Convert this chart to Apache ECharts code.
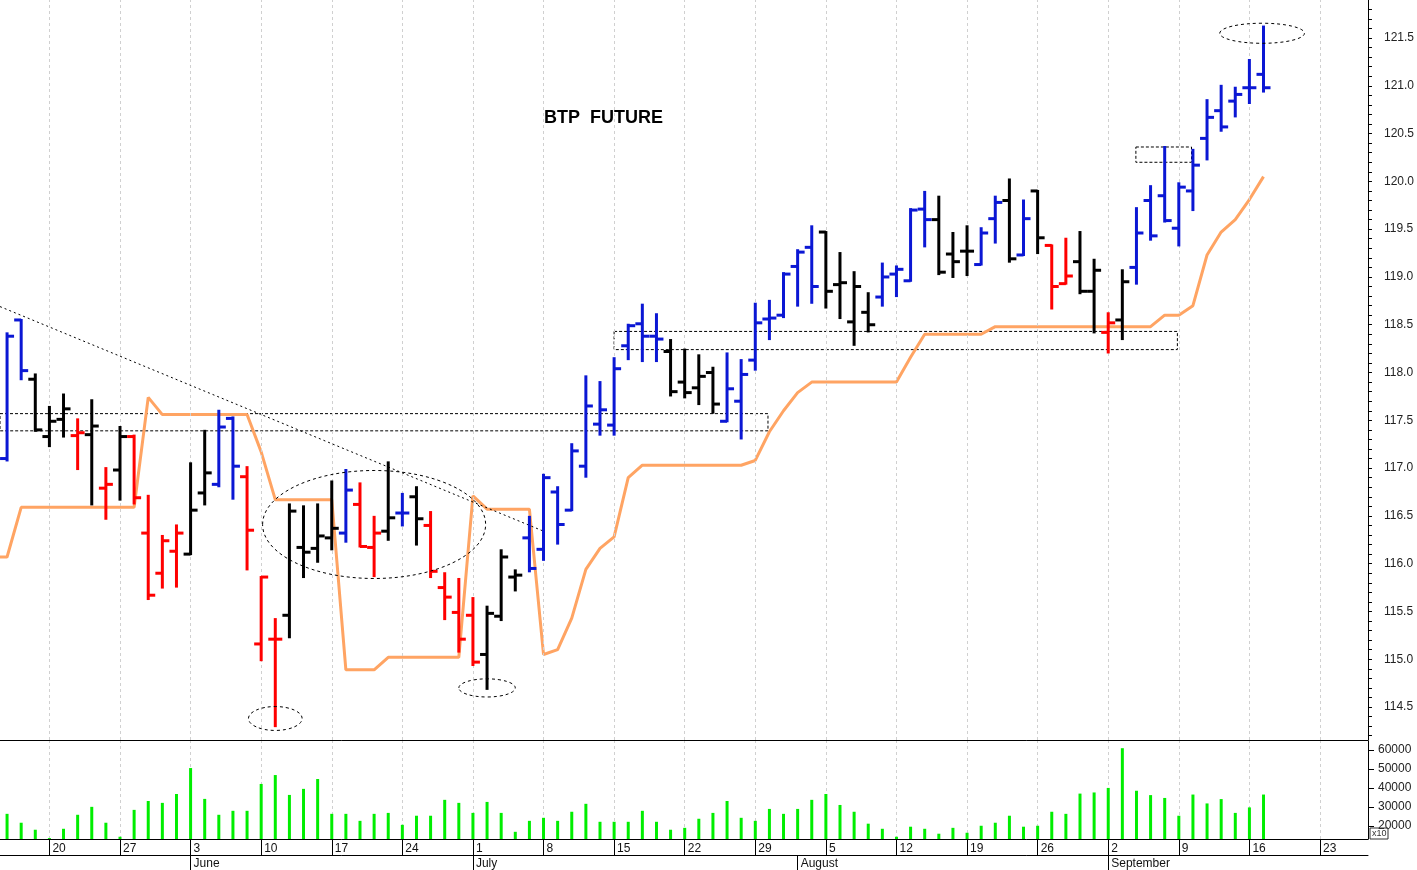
<!DOCTYPE html>
<html><head><meta charset="utf-8">
<script src="https://cdn.jsdelivr.net/npm/echarts@6/dist/echarts.min.js"></script>
<style>html,body{margin:0;padding:0;background:#fff}#c{width:1417px;height:870px}</style>
</head><body><div id="c"></div>
<script>
const firstDay = -1; // trading-day index of first bar (May 14)
const opens  = [116.95,117.1,118.55,117.93,117.33,117.51,117.34,117.35,116.79,116.98,117.33,116.32,115.9,116.13,116.1,116.74,116.83,117.52,
116.91,115.16,115.21,115.46,116.17,116.16,116.27,116.32,116.62,116.17,116.34,116.53,116.7,116.4,115.75,115.49,
115.46,115.05,115.45,115.86,116.27,116.15,116.75,116.56,117.02,117.46,117.45,118.28,118.51,118.38,118.22,117.9,117.84,118.0,117.49,117.7,118.13,118.56,
118.6,119.11,119.31,119.47,118.92,118.53,118.63,118.79,119.03,118.96,119.71,119.6,119.24,119.27,119.13,119.61,119.8,119.23,119.9,119.33,118.93,
119.16,118.85,118.42,118.55,119.1,119.8,119.85,119.51,119.9,120.45,120.74,120.84,120.98,121.12];
const highs  = [117.2,118.41,118.55,117.98,117.64,117.77,117.51,117.71,117.0,117.43,117.34,116.71,116.29,116.4,117.05,117.39,117.6,117.53,
117.01,115.86,115.42,116.62,116.6,116.62,116.86,116.98,116.84,116.49,117.06,116.73,116.8,116.54,115.9,115.84,
115.64,115.55,116.14,115.93,116.49,116.93,116.8,117.25,117.96,117.9,118.15,118.5,118.71,118.61,118.34,118.24,118.18,118.05,118.2,118.13,118.72,118.75,
119.04,119.28,119.53,119.47,119.25,119.05,118.83,119.14,119.11,119.71,119.89,119.84,119.46,119.53,119.51,119.84,120.02,119.8,119.9,119.33,119.4,
119.47,119.18,118.62,119.07,119.72,119.95,120.36,119.98,120.33,120.85,121.0,120.98,121.27,121.62];
const lows   = [116.7,117.08,117.93,117.39,117.23,117.33,116.99,116.62,116.47,116.67,116.63,115.63,115.75,115.76,116.1,116.62,116.81,116.68,
115.94,114.99,114.3,115.23,115.86,116.02,116.15,116.23,116.18,115.87,116.25,116.4,116.2,115.86,115.42,115.08,
114.94,114.69,115.41,115.72,115.92,116.04,116.21,116.56,116.91,117.35,117.35,118.14,118.12,118.12,117.76,117.74,117.67,117.58,117.49,117.31,118.03,118.35,
118.58,118.7,118.73,118.68,118.57,118.29,118.43,118.7,118.8,118.96,119.32,119.03,119.0,119.02,119.13,119.36,119.16,119.23,119.25,118.67,118.93,
118.83,118.42,118.21,118.35,118.93,119.39,119.58,119.33,119.7,120.23,120.53,120.68,120.82,120.94];
const closes = [116.93,118.38,118.02,117.4,117.49,117.62,117.37,117.44,116.83,117.33,116.69,115.67,116.24,116.32,116.56,116.95,117.43,117.02,
116.35,115.86,115.21,116.55,116.12,116.29,116.37,116.77,116.18,116.32,116.48,116.53,116.47,115.92,115.65,115.21,
114.97,115.48,116.07,115.88,115.95,116.9,116.41,117.18,117.65,117.61,118.04,118.49,118.38,118.35,117.8,117.79,117.96,117.67,117.83,117.98,118.52,118.57,
119.03,119.26,118.9,118.85,118.94,118.9,118.5,119.0,119.08,119.7,119.6,119.05,119.16,119.27,119.46,119.78,119.19,119.61,119.41,118.9,119.01,
118.85,119.07,118.52,118.95,119.46,119.43,119.59,119.94,120.17,120.67,120.57,120.91,120.98,120.98];
const barColors = ['r','b','b','k','k','k','r','k','r','k','r','r','r','r','k','k','b','b',
'r','r','r','k','k','k','k','b','r','r','k','b','k','r','r','r',
'r','k','k','k','b','b','b','b','b','b','b','b','b','b','k','k','k','k','b','b','b','b',
'b','b','b','k','k','k','k','b','b','b','b','k','k','k','b','b','k','b','k','r','r',
'k','k','r','k','b','b','b','b','b','b','b','b','b','b'];
const stopLine = [116.07,116.07,116.59,116.59,116.59,116.59,116.59,116.59,116.59,116.59,116.59,117.74,117.56,117.56,117.56,117.56,117.56,117.56,
117.56,117.17,116.67,116.67,116.67,116.67,116.67,114.89,114.89,114.89,115.02,115.02,115.02,115.02,115.02,115.02,
116.71,116.57,116.57,116.57,116.57,115.05,115.1,115.43,115.94,116.16,116.28,116.9,117.03,117.03,117.03,117.03,117.03,117.03,117.03,117.03,117.08,117.38,
117.6,117.79,117.9,117.9,117.9,117.9,117.9,117.9,117.9,118.16,118.4,118.4,118.4,118.4,118.4,118.48,118.48,118.48,118.48,118.48,118.48,
118.48,118.48,118.48,118.48,118.48,118.48,118.6,118.6,118.7,119.23,119.47,119.6,119.81,120.05];
const volumes = [null,26300,21600,17900,13500,18400,25800,30000,21600,14200,28400,33100,32100,36800,50500,34200,25800,27900,
27900,42100,46800,36300,39500,44700,26300,26300,22600,26300,26800,20500,25300,25300,33700,32100,
26800,32600,26800,16800,22600,24200,22600,27400,31600,22100,22100,22100,27900,22100,17900,18900,23700,26800,33100,24200,22600,28900,
26300,28900,33700,36800,31000,27400,21100,18400,14200,19500,18400,15800,18900,16300,20000,21600,25300,19500,20000,27400,26300,
37000,37600,40000,61000,38500,36200,34700,25300,36500,31800,34100,26800,29700,36500];
const mondayIdx = [3,8,13,18,23,28,33,38,43,48,53,58,63,68,73,78,83,88,93];
const mondayLabels = ['20','27','3','10','17','24','1','8','15','22','29','5','12','19','26','2','9','16','23'];
const monthIdx = [13,33,56,78];
const monthLabels = ['June','July','August','September'];
const priceTicks = [114.5,115.0,115.5,116.0,116.5,117.0,117.5,118.0,118.5,119.0,119.5,120.0,120.5,121.0,121.5];
const volTicks = [20000,30000,40000,50000,60000];
const titleText = 'BTP  FUTURE';

const colorMap = {b:'#0b17d4', k:'#000000', r:'#ff0000'};
const ohlc = opens.map((o,i)=>[firstDay+i,o,highs[i],lows[i],closes[i]]);
const stopData = stopLine.map((v,i)=>[firstDay+i,v]);
const volData = volumes.map((v,i)=>[firstDay+i,v]);
const minor = []; for(let v=1142;v<=1218;v++) minor.push(v/10);

const XMIN=-0.5, XMAX=96.4;
const vGrid = mondayIdx.map(v=>({xAxis:v}));
const gridLineMark = {silent:true,symbol:'none',label:{show:false},lineStyle:{color:'#d0d0d0',type:[3,3],width:1},data:vGrid};
const chart = echarts.init(document.getElementById('c'));
chart.setOption({
  animation:false,
  textStyle:{fontFamily:'Liberation Sans, Arial'},
  grid:[{left:0,top:0,width:1368,height:740},{left:0,top:741,width:1368,height:98}],
  title:{text:titleText,left:539,top:104,textStyle:{fontSize:18,fontWeight:'bold',color:'#000',fontFamily:'Liberation Sans, Arial'}},
  xAxis:[
    {type:'value',gridIndex:0,min:XMIN,max:XMAX,axisLine:{show:true,onZero:false,lineStyle:{color:'#000'}},axisTick:{show:false},axisLabel:{show:false},splitLine:{show:false}},
    {type:'value',gridIndex:1,min:XMIN,max:XMAX,axisLine:{show:true,onZero:false,lineStyle:{color:'#000'}},
      axisTick:{show:true,customValues:mondayIdx,length:16,lineStyle:{color:'#000'}},
      axisLabel:{customValues:mondayIdx,align:'left',margin:4,padding:[0,0,0,3],fontSize:12,color:'#111',
        formatter:v=>mondayLabels[mondayIdx.indexOf(Math.round(v))]||''},splitLine:{show:false}},
    {type:'value',gridIndex:1,min:XMIN,max:XMAX,position:'bottom',offset:16,axisLine:{show:true,onZero:false,lineStyle:{color:'#000'}},
      axisTick:{show:true,customValues:monthIdx,length:16,lineStyle:{color:'#000'}},
      axisLabel:{customValues:monthIdx,align:'left',margin:3,padding:[0,0,0,3],fontSize:12,color:'#111',
        formatter:v=>monthLabels[monthIdx.indexOf(Math.round(v))]||''},splitLine:{show:false}}
  ],
  yAxis:[
    {type:'value',gridIndex:0,position:'right',min:114.155,max:121.898,
      axisLine:{show:true,onZero:false,lineStyle:{color:'#000'}},
      axisTick:{show:true,customValues:minor,length:4,lineStyle:{color:'#000'}},
      axisLabel:{customValues:priceTicks,formatter:v=>v.toFixed(1),margin:16,fontSize:12,color:'#222'},splitLine:{show:false}},
    {type:'value',gridIndex:1,position:'right',min:13000,max:64800,
      axisLine:{show:true,onZero:false,lineStyle:{color:'#000'}},
      axisTick:{show:true,customValues:volTicks,length:6,lineStyle:{color:'#000'}},
      axisLabel:{customValues:volTicks,formatter:v=>String(v),margin:10,fontSize:12,color:'#222'},splitLine:{show:false}}
  ],
  series:[
    {type:'line',xAxisIndex:0,yAxisIndex:0,data:[],z:0,markLine:gridLineMark},
    {type:'line',xAxisIndex:1,yAxisIndex:1,data:[],z:0,markLine:gridLineMark},
    {type:'line',xAxisIndex:0,yAxisIndex:0,data:stopData,symbol:'none',lineStyle:{color:'#ffa463',width:3},z:2,
      markArea:{silent:true,itemStyle:{color:'rgba(0,0,0,0)',borderColor:'#000',borderWidth:1,borderType:[3,2]},
        data:[[{coord:[XMIN,117.57]},{coord:[53.9,117.39]}],[{coord:[43,118.43]},{coord:[82.9,118.24]}],[{coord:[79.96,120.36]},{coord:[83.9,120.2]}]]}},
    {type:'line',xAxisIndex:0,yAxisIndex:0,data:[],symbol:'none',z:1,
      markLine:{silent:true,symbol:'none',label:{show:false},lineStyle:{color:'#000',type:[2,3],width:1},
        data:[[{coord:[XMIN,118.69]},{coord:[38,116.34]}]]}},
    {type:'custom',xAxisIndex:0,yAxisIndex:0,data:ohlc,z:5,clip:true,
      renderItem:(params,api)=>{
        const x=api.value(0);
        const c=colorMap[barColors[params.dataIndex]];
        const pH=api.coord([x,api.value(2)]), pL=api.coord([x,api.value(3)]);
        const pO=api.coord([x,api.value(1)]), pC=api.coord([x,api.value(4)]);
        const st={stroke:c,lineWidth:3};
        return {type:'group',children:[
          {type:'line',shape:{x1:pH[0],y1:pH[1]-1,x2:pL[0],y2:pL[1]+1},style:st},
          {type:'line',shape:{x1:pO[0]-7,y1:pO[1],x2:pO[0],y2:pO[1]},style:st},
          {type:'line',shape:{x1:pC[0],y1:pC[1],x2:pC[0]+7,y2:pC[1]},style:st}]};
      }},
    {type:'bar',xAxisIndex:1,yAxisIndex:1,data:volData,barWidth:3,z:5,itemStyle:{color:'#00ee00'}}
  ]
});
const ellipses = [[26,116.41,7.9,0.565],[19,114.38,1.9,0.125],[34,114.7,2.0,0.095],[88.9,121.55,3.0,0.105]];
const gs = ellipses.map(e=>{
  const c=chart.convertToPixel({gridIndex:0},[e[0],e[1]]);
  const ed=chart.convertToPixel({gridIndex:0},[e[0]+e[2],e[1]+e[3]]);
  return {type:'ellipse',shape:{cx:c[0],cy:c[1],rx:Math.abs(ed[0]-c[0]),ry:Math.abs(c[1]-ed[1])},
    style:{fill:null,stroke:'#000',lineWidth:1,lineDash:[3,3]},silent:true,z:10};
});
gs.push({type:'text',left:1372,top:829,style:{text:'x10',fontSize:9,fill:'#333',font:'9px Liberation Sans'},z:10});
gs.push({type:'rect',shape:{x:1370,y:828,width:18,height:11},style:{fill:null,stroke:'#333',lineWidth:1},z:10});
chart.setOption({graphic:gs});
</script></body></html>
